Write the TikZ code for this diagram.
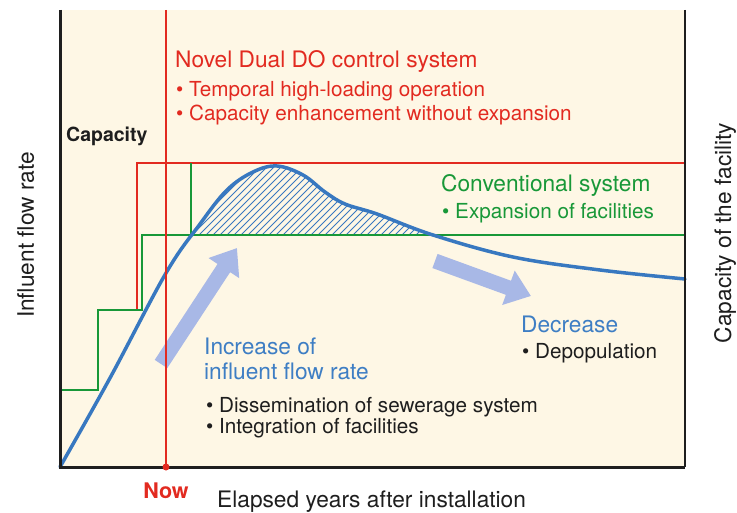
\documentclass[tikz,border=0pt]{standalone}
\usepackage{fontspec}
\setmainfont{TeX Gyre Heros}
\usetikzlibrary{arrows.meta}
\definecolor{bg}{RGB}{254,247,229}
\definecolor{cred}{RGB}{226,42,32}
\definecolor{cgreen}{RGB}{24,152,56}
\definecolor{cblue}{RGB}{56,120,192}
\definecolor{ctext}{RGB}{62,126,196}
\definecolor{carrow}{RGB}{168,184,230}
\definecolor{cblack}{RGB}{30,30,30}
\begin{document}
\begin{tikzpicture}[x=1pt,y=-1pt,
  head/.style={font=\fontsize{22.7}{26}\selectfont, anchor=base west, inner sep=0pt, text=cblack},
  item/.style={font=\fontsize{20.7}{24}\selectfont, anchor=base west, inner sep=0pt, text=cblack},
  bigarrow/.style={carrow, line width=15pt, -{Triangle[width=35pt,length=24pt]}},
  capred/.style={cred, line width=2.5pt},
  capgreen/.style={cgreen, line width=2pt},
  flow/.style={cblue, line width=3.5pt, line cap=round}]
\useasboundingbox (0,0) rectangle (737,513);
\fill[bg] (60,10) rectangle (685,467);
% capacity lines
\coordinate (r0) at (137,310);
\coordinate (r1) at (137,163);
\coordinate (r2) at (685,163);
\draw[capred] (r0) -- (r1) -- (r2);
\coordinate (g0) at (60,390);
\coordinate (g1) at (98,390);
\coordinate (g2) at (98,310);
\coordinate (g3) at (142,310);
\coordinate (g4) at (142,235);
\coordinate (g5) at (685,235);
\coordinate (g6) at (191,235);
\coordinate (g7) at (191,163);
\draw[capgreen, line join=miter] (g0) -- (g1) -- (g2) -- (g3) -- (g4) -- (g5);
\draw[capgreen] (g6) -- (g7);
% hatch
\begin{scope}
  \clip (150,150) rectangle (440,234);
  \clip plot[smooth,tension=0.6] coordinates {(60,467) (110,378) (166,273) (200,224) (227,190) (253,172) (277,166) (303,175) (325,192) (345,204) (377,214) (433,235) (513,257) (600,270) (685,279)} -- (685,467) -- (60,467) -- cycle;
  \foreach \i in {0,...,50} \draw[cblue, line width=0.8pt] ({100+7*\i},236) -- ++(100,-100);
\end{scope}
% flow curve
\draw[flow] plot[smooth,tension=0.6] coordinates {(60,467) (110,378) (166,273) (200,224) (227,190) (253,172) (277,166) (303,175) (325,192) (345,204) (377,214) (433,235) (513,257) (600,270) (685,279)};
% arrows
\coordinate (a1s) at (161,364);
\coordinate (a1e) at (237,248);
\coordinate (a2s) at (435,261);
\coordinate (a2e) at (531,296);
\draw[bigarrow] (a1s) -- (a1e);
\draw[bigarrow] (a2s) -- (a2e);
% now line
\coordinate (n0) at (166,10);
\coordinate (n1) at (166,467);
\draw[cred, line width=1.2pt] (n0) -- (n1);
% axes
\coordinate (o) at (60,467);
\coordinate (ytop) at (60,10);
\coordinate (xend) at (685,467);
\coordinate (rtop) at (685,10);
\draw[cblack, line width=3pt] (ytop) -- (o) -- (xend);
\draw[cblack, line width=1.5pt] (rtop) -- (xend);
\fill[cred] (n1) circle (3.5);
% texts
\node[head, text=cred] (t1) at (175,68) {Novel Dual DO control system};
\node[item, text=cred] (t2) at (176,97) {• Temporal high-loading operation};
\node[item, text=cred] (t3) at (176,121) {• Capacity enhancement without expansion};
\node[font=\bfseries\fontsize{19.5}{22}\selectfont, anchor=base west, inner sep=0pt, text=cblack] (cap) at (66,142) {Capacity};
\node[head, text=cgreen] (conv) at (441,192) {Conventional system};
\node[item, text=cgreen] (exp) at (442,219) {• Expansion of facilities};
\node[head, text=ctext] (dec) at (521,333) {Decrease};
\node[item] (dep) at (522,359) {• Depopulation};
\node[head, text=ctext] (inc1) at (204,355) {Increase of};
\node[head, text=ctext] (inc2) at (204,379) {influent flow rate};
\node[item] (dis) at (206,412) {• Dissemination of sewerage system};
\node[item] (int) at (206,433) {• Integration of facilities};
\node[font=\bfseries\fontsize{21.5}{24}\selectfont, text=cred, anchor=base, inner sep=0pt] (now) at (166,498) {Now};
\node[head] (xl) at (217,507) {Elapsed years after installation};
\node[head, rotate=90, anchor=base] (yl) at (34,235) {Influent flow rate};
\node[head, rotate=90, anchor=base] (yr) at (731,233) {Capacity of the facility};
\end{tikzpicture}
\end{document}
